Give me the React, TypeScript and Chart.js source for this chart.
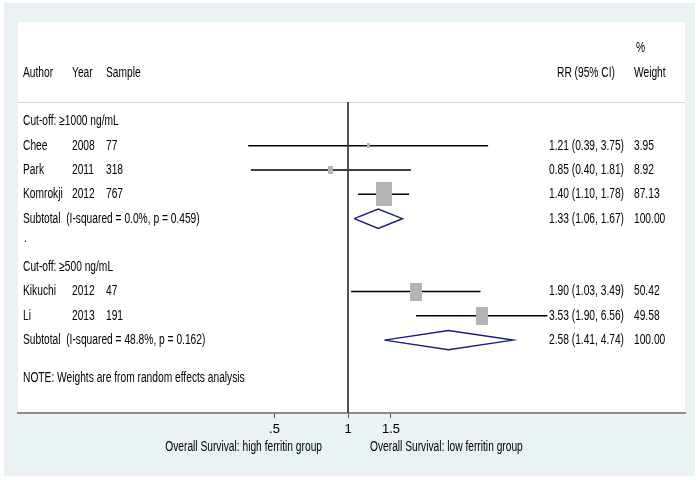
import { useEffect, useRef } from 'react';
import { Chart, registerables } from 'chart.js';

Chart.register(...registerables);

// ---- data ----
const authors = ['Chee', 'Park', 'Komrokji', 'Kikuchi', 'Li'];
const years = ['2008', '2011', '2012', '2012', '2013'];
const samples = ['77', '318', '767', '47', '191'];
const rr = [1.21, 0.85, 1.4, 1.9, 3.53];
const lo = [0.39, 0.4, 1.1, 1.03, 1.9];
const hi = [3.75, 1.81, 1.78, 3.49, 6.56];
const weights = [3.95, 8.92, 87.13, 50.42, 49.58];
const studyRows = [1, 2, 3, 7, 8];

const groupLabels = ['Cut-off: ≥1000 ng/mL', 'Cut-off: ≥500 ng/mL'];
const groupRows = [0, 6];
const subRR = [1.33, 2.58];
const subLo = [1.06, 1.41];
const subHi = [1.67, 4.74];
const subI2 = ['0.0%', '48.8%'];
const subP = ['0.459', '0.162'];
const subRows = [4, 9];

const xTicks = [0.5, 1, 1.5];
const xTickLabels = ['.5', '1', '1.5'];
const leftTitle = 'Overall Survival: high ferritin group';
const rightTitle = 'Overall Survival: low ferritin group';
const noteText = 'NOTE: Weights are from random effects analysis';
const noteRow = 10.55;
const dotRow = 5;

// axis ranges
const X_MIN = 0.04445;
const X_MAX = 24.03;
const Y_MIN = -4.095;
const Y_MAX = 12;
const HEADER_LINE_ROW = -0.8;

const FONT = '"Liberation Sans", Arial, sans-serif';
const SQUEEZE = 0.73;

function fmt(v: number) {
  return v.toFixed(2);
}

export default function App() {
  const ref = useRef<HTMLCanvasElement>(null);

  useEffect(() => {
    const canvas = ref.current;
    if (!canvas) return;

    const maxW = Math.max(...weights);
    const boxes = weights.map((w) => {
      const s = Math.sqrt(w / maxW);
      const bw = Math.max(2, Math.round(16 * s));
      const bh = Math.max(3, Math.round(24 * s));
      const c = document.createElement('canvas');
      c.width = bw;
      c.height = bh;
      const cx = c.getContext('2d')!;
      cx.fillStyle = '#b4b4b4';
      cx.fillRect(0, 0, bw, bh);
      return c;
    });

    const datasets: any[] = [];
    datasets.push({
      type: 'line',
      data: [
        { x: 1, y: HEADER_LINE_ROW },
        { x: 1, y: Y_MAX },
      ],
      borderColor: '#3a3a3a',
      borderWidth: 1,
      pointRadius: 0,
    });
    datasets.push({
      type: 'scatter',
      data: rr.map((v, i) => ({ x: v, y: studyRows[i] })),
      pointStyle: (ctx: any) => boxes[ctx.dataIndex],
      pointRadius: 3,
    });
    rr.forEach((_, i) => {
      datasets.push({
        type: 'line',
        data: [
          { x: lo[i], y: studyRows[i] },
          { x: hi[i], y: studyRows[i] },
        ],
        borderColor: '#000',
        borderWidth: 1.5,
        pointRadius: 0,
      });
    });
    datasets.push({
      type: 'scatter',
      data: rr.map((v, i) => ({ x: v, y: studyRows[i] })),
      pointStyle: 'circle',
      pointRadius: 1.3,
      backgroundColor: '#000',
      borderColor: '#000',
      borderWidth: 0,
    });
    subRR.forEach((v, i) => {
      const r = subRows[i];
      const h = 0.4;
      datasets.push({
        type: 'line',
        data: [
          { x: subLo[i], y: r },
          { x: v, y: r - h },
          { x: subHi[i], y: r },
          { x: v, y: r + h },
          { x: subLo[i], y: r },
        ],
        borderColor: '#1c1c82',
        borderWidth: 1.5,
        pointRadius: 0,
        tension: 0,
      });
    });

    const bgPlugin = {
      id: 'bg',
      beforeDraw(chart: any) {
        const { ctx, chartArea, width, height } = chart;
        ctx.save();
        ctx.fillStyle = '#ffffff';
        ctx.fillRect(0, 0, width, height);
        ctx.fillStyle = '#eaf2f3';
        ctx.fillRect(4, 3, width - 9, height - 7);
        ctx.fillStyle = '#ffffff';
        ctx.fillRect(chartArea.left, chartArea.top, chartArea.right - chartArea.left, chartArea.bottom - chartArea.top);
        const y = Math.round(chart.scales.y.getPixelForValue(HEADER_LINE_ROW)) + 0.5;
        ctx.strokeStyle = '#d4d4d4';
        ctx.lineWidth = 1;
        ctx.beginPath();
        ctx.moveTo(chartArea.left, y);
        ctx.lineTo(chartArea.right, y);
        ctx.stroke();
        ctx.restore();
      },
    };

    const textPlugin = {
      id: 'texts',
      afterDraw(chart: any) {
        const { ctx, chartArea } = chart;
        const ys = chart.scales.y;
        const xs = chart.scales.x;
        const L = chartArea.left;
        const cAuthor = L + 5;
        const cYear = L + 54;
        const cSample = L + 88;
        const cCI = L + 531;
        const cW = L + 616;
        ctx.save();
        ctx.fillStyle = '#000';
        ctx.font = `14px ${FONT}`;
        ctx.textBaseline = 'middle';
        ctx.textAlign = 'left';
        const draw = (t: string, x: number, y: number, align: 'left' | 'right' = 'left') => {
          ctx.save();
          ctx.translate(x, y);
          ctx.scale(SQUEEZE, 1);
          ctx.textAlign = align;
          ctx.fillText(t, 0, 0);
          ctx.restore();
        };
        const put = (t: string, x: number, row: number) => draw(t, x, ys.getPixelForValue(row));
        put('%', cW + 2, -3);
        put('Author', cAuthor, -2);
        put('Year', cYear, -2);
        put('Sample', cSample, -2);
        put('RR (95% CI)', cCI + 8, -2);
        put('Weight', cW, -2);
        groupLabels.forEach((g, i) => put(g, cAuthor, groupRows[i]));
        authors.forEach((a, i) => {
          const r = studyRows[i];
          put(a, cAuthor, r);
          put(years[i], cYear, r);
          put(samples[i], cSample, r);
          put(`${fmt(rr[i])} (${fmt(lo[i])}, ${fmt(hi[i])})`, cCI, r);
          put(fmt(weights[i]), cW, r);
        });
        subRR.forEach((v, i) => {
          const r = subRows[i];
          put(`Subtotal  (I-squared = ${subI2[i]}, p = ${subP[i]})`, cAuthor, r);
          put(`${fmt(v)} (${fmt(subLo[i])}, ${fmt(subHi[i])})`, cCI, r);
          put('100.00', cW, r);
        });
        put('.', cAuthor + 1, dotRow - 0.2);
        put(noteText, cAuthor, noteRow);
        const x1 = xs.getPixelForValue(1);
        const ty = chartArea.bottom + 34;
        draw(leftTitle, x1 - 26, ty, 'right');
        draw(rightTitle, x1 + 22, ty, 'left');
        ctx.restore();
      },
    };

    const chart = new Chart(canvas, {
      type: 'scatter',
      data: { datasets },
      options: {
        animation: false,
        responsive: false,
        maintainAspectRatio: false,
        events: [],
        layout: { padding: { left: 18, right: 15, top: 22, bottom: 0 }, autoPadding: false },
        plugins: { legend: { display: false }, tooltip: { enabled: false } },
        scales: {
          x: {
            type: 'logarithmic',
            min: X_MIN,
            max: X_MAX,
            bounds: 'data',
            afterBuildTicks: (scale: any) => {
              scale.ticks = xTicks.map((v) => ({ value: v }));
            },
            afterFit: (scale: any) => {
              scale.height = 67;
            },
            ticks: {
              autoSkip: false,
              maxRotation: 0,
              padding: 4,
              color: '#000',
              font: { family: FONT, size: 13 },
              callback: (_v: any, i: number) => xTickLabels[i],
            },
            grid: {
              display: true,
              drawOnChartArea: false,
              drawTicks: true,
              tickLength: 5,
              color: '#555',
              lineWidth: 1,
            },
            border: { display: true, color: '#8c8c8c', width: 2 },
          },
          y: {
            type: 'linear',
            min: Y_MIN,
            max: Y_MAX,
            reverse: true,
            display: false,
          },
        },
      },
      plugins: [bgPlugin, textPlugin],
    } as any);

    return () => chart.destroy();
  }, []);

  return (
    <div style={{ position: 'fixed', left: 0, top: 0, width: 700, height: 480 }}>
      <canvas ref={ref} width={700} height={480} style={{ width: 700, height: 480, display: 'block' }} />
    </div>
  );
}
